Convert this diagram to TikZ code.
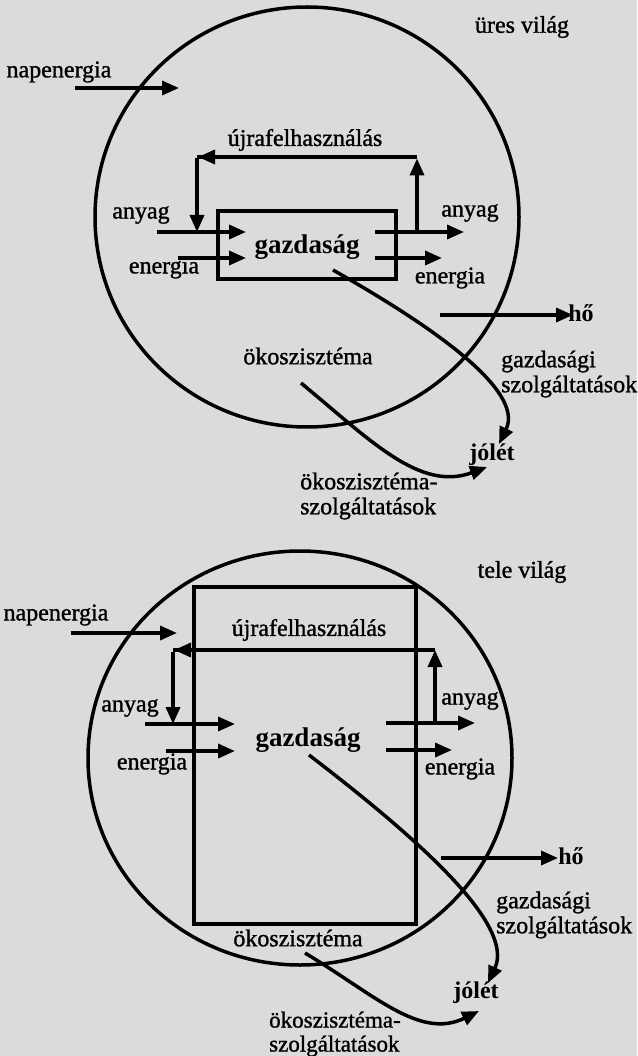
\documentclass[tikz,border=0pt]{standalone}
\usepackage{fontspec}
\setmainfont{Liberation Serif}
\newfontfamily\heavyserif[FakeBold=1.2]{Liberation Serif}
\usetikzlibrary{arrows.meta}
\begin{document}
\begin{tikzpicture}[x=1pt,y=-1pt,
  lbl/.style={inner sep=0pt, font=\heavyserif\fontsize{24}{25}\selectfont, text=black},
  boldlbl/.style={inner sep=0pt, font=\fontsize{24}{25}\selectfont\bfseries, text=black},
  big/.style={inner sep=0pt, font=\fontsize{27}{30}\selectfont\bfseries, text=black},
  ln/.style={line width=3.5pt, draw=black},
  arr/.style={ln, -{Triangle[length=17pt,width=14pt]}},
  ]
\fill[black!14] (0,0) rectangle (637,1056);
\useasboundingbox (0,0) rectangle (637,1056);

% ================= TOP: ures vilag =================
\draw[ln] (307,217) ellipse [x radius=212, y radius=210];
\node[ln, draw, minimum width=178pt, minimum height=68pt, inner sep=0pt] (eco1) at (307,245) {};
\node[lbl] (uv) at (522,27) {üres világ};
\node[lbl] (nap1) at (59,72) {napenergia};
\node[lbl] (ujra1) at (305,140) {újrafelhasználás};
\node[big] (gazd1) at (307,247) {gazdaság};
\node[lbl] (ain1) at (141,215) {anyag};
\node[lbl] (ein1) at (164,268) {energia};
\node[lbl] (aout1) at (470,213) {anyag};
\node[lbl] (eout1) at (450,278) {energia};
\node[boldlbl] (ho1) at (581,313) {hő};
\node[lbl, anchor=west, align=left] (gsz1) at (501,374) {gazdasági\\szolgáltatások};
\node[lbl] (oko1) at (308,356) {ökoszisztéma};
\node[boldlbl] (jol1) at (492,455) {jólét};
\node[lbl, anchor=west, align=left] (osz1) at (300,496) {ökoszisztéma-\\szolgáltatások};

\coordinate (nap1s) at (75,88);   \coordinate (nap1e) at (179,88);
\coordinate (ain1s) at (157,232); \coordinate (ain1e) at (246,232);
\coordinate (ein1s) at (178,258); \coordinate (ein1e) at (246,258);
\coordinate (aout1s) at (375,232); \coordinate (aout1e) at (464,232);
\coordinate (eout1s) at (375,258); \coordinate (eout1e) at (442,258);
\coordinate (r1a) at (417,232); \coordinate (r1b) at (417,157);
\coordinate (r1c) at (197,157); \coordinate (r1d) at (197,232);
\coordinate (ho1s) at (440,315); \coordinate (ho1e) at (573,315);
\coordinate (gs1s) at (333,270); \coordinate (gs1e) at (499,444);
\coordinate (os1s) at (301,383); \coordinate (os1e) at (487,467);

\draw[arr] (nap1s) -- (nap1e);
\draw[arr] (ain1s) -- (ain1e);
\draw[arr] (ein1s) -- (ein1e);
\draw[arr] (aout1s) -- (aout1e);
\draw[arr] (eout1s) -- (eout1e);
\draw[arr] (r1a) -- ([yshift=-1.5pt]r1b);
\draw[ln] (r1b) -- (r1c);
\draw[arr] ([xshift=20pt]r1c) -- ([xshift=1pt]r1c);
\draw[arr] ([yshift=-1.5pt]r1c) -- (r1d);
\draw[arr] (ho1s) -- (ho1e);
\draw[arr] (gs1s) .. controls (430,325) and (525,390) .. (gs1e);
\draw[arr] (os1s) .. controls (370,440) and (420,492) .. (os1e);

% ================= BOTTOM: tele vilag =================
\draw[ln] (300,758) ellipse [x radius=212, y radius=207];
\node[ln, draw, minimum width=222pt, minimum height=337pt, inner sep=0pt] (eco2) at (305,755.5) {};
\node[lbl] (tv) at (522,572) {tele világ};
\node[lbl] (nap2) at (56,615) {napenergia};
\node[lbl] (ujra2) at (309,630) {újrafelhasználás};
\node[big] (gazd2) at (308,740) {gazdaság};
\node[lbl] (ain2) at (130,708) {anyag};
\node[lbl] (ein2) at (152,764) {energia};
\node[lbl] (aout2) at (470,701) {anyag};
\node[lbl] (eout2) at (460,769) {energia};
\node[boldlbl] (ho2) at (571,856) {hő};
\node[lbl, anchor=west, align=left] (gsz2) at (496,915) {gazdasági\\szolgáltatások};
\node[lbl] (oko2) at (298,938) {ökoszisztéma};
\node[boldlbl] (jol2) at (476,993) {jólét};
\node[lbl, anchor=west, align=left, font=\heavyserif\fontsize{23}{24}\selectfont] (osz2) at (269,1034) {ökoszisztéma-\\szolgáltatások};

\coordinate (nap2s) at (71,633);   \coordinate (nap2e) at (177,633);
\coordinate (ain2s) at (145,724); \coordinate (ain2e) at (235,724);
\coordinate (ein2s) at (166,751); \coordinate (ein2e) at (235,751);
\coordinate (aout2s) at (386,723); \coordinate (aout2e) at (475,723);
\coordinate (eout2s) at (386,750); \coordinate (eout2e) at (452,750);
\coordinate (r2a) at (435,723); \coordinate (r2b) at (435,650);
\coordinate (r2c) at (173,650); \coordinate (r2d) at (173,724);
\coordinate (ho2s) at (441,858); \coordinate (ho2e) at (558,858);
\coordinate (gs2s) at (309,755); \coordinate (gs2e) at (488,983);
\coordinate (os2s) at (305,953); \coordinate (os2e) at (479,1011);

\draw[arr] (nap2s) -- (nap2e);
\draw[arr] (ain2s) -- (ain2e);
\draw[arr] (ein2s) -- (ein2e);
\draw[arr] (aout2s) -- (aout2e);
\draw[arr] (eout2s) -- (eout2e);
\draw[arr] (r2a) -- (r2b);
\draw[ln] (r2b) -- (r2c);
\draw[arr] ([xshift=20pt]r2c) -- ([xshift=1pt]r2c);
\draw[arr] ([yshift=-1.5pt]r2c) -- (r2d);
\draw[arr] (ho2s) -- (ho2e);
\draw[arr] (gs2s) .. controls (420,840) and (515,925) .. (gs2e);
\draw[arr] (os2s) .. controls (375,995) and (420,1040) .. (os2e);
\end{tikzpicture}
\end{document}
